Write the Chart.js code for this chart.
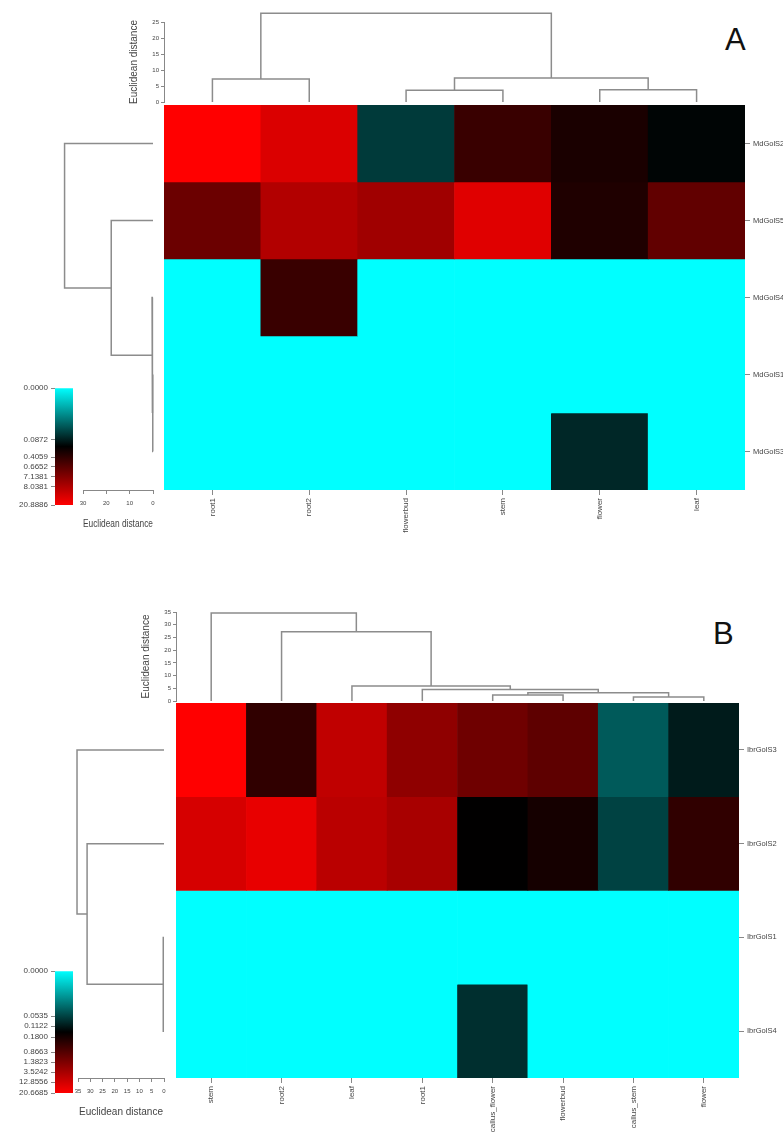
<!DOCTYPE html>
<html lang="en">
<head>
<meta charset="UTF-8">
<title>GolS expression heatmaps</title>
<script src="https://cdn.jsdelivr.net/npm/chart.js"></script>
<style>
    body {
        margin: 0;
        background: #ffffff;
        width: 784px;
        height: 1137px;
        position: relative;
        overflow: hidden;
        font-family: 'Liberation Sans', Arial, sans-serif;
    }
    canvas { position: absolute; }
    .tag {
        position: absolute;
        font-size: 31px;
        line-height: 1;
        color: #111;
    }
</style>
</head>
<body>
<div class="tag" style="left:725px; top:24px">A</div>
<div class="tag" style="left:713px; top:618px">B</div>

<script>
    // ---- panel A data ----
    const colsA = ['root1', 'root2', 'flowerbud', 'stem', 'flower', 'leaf'];
    const rowsA = ['MdGolS2', 'MdGolS5', 'MdGolS4', 'MdGolS1', 'MdGolS3'];
    const valuesA = [
        [20.9, 15.0, 0.076, 0.47, 0.32, 0.19],
        [3.3, 8.3, 7.7, 15.8, 0.34, 1.8],
        [0, 0.47, 0, 0, 0, 0],
        [0, 0, 0, 0, 0, 0],
        [0, 0, 0, 0, 0.083, 0]
    ];
    const keyValsA = [0, 0.0872, 0.4059, 0.6652, 7.1381, 8.0381, 20.8886];
    const keyPosA = [0, 0.444, 0.59, 0.675, 0.76, 0.846, 1];
    // merges like R hclust: negative = leaf (1-based), positive = earlier merge
    const colMergeA = [[-3, -4], [-5, -6], [-1, -2], [1, 2], [3, 4]];
    const colHeightA = [3.7, 3.8, 7.2, 7.5, 27.7];
    const rowMergeA = [[-4, -5], [-3, 1], [-2, 2], [-1, 3]];
    const rowHeightA = [0.1, 0.4, 17.9, 37.9];

    // ---- panel B data ----
    const colsB = ['stem', 'root2', 'leaf', 'root1', 'callus_flower', 'flowerbud', 'callus_stem', 'flower'];
    const rowsB = ['IbrGolS3', 'IbrGolS2', 'IbrGolS1', 'IbrGolS4'];
    const valuesB = [
        [20.6, 0.48, 9.0, 2.3, 1.2, 1.0, 0.047, 0.11],
        [13.7, 16.8, 7.6, 3.6, 0.15, 0.18, 0.055, 0.48],
        [0, 0, 0, 0, 0, 0, 0, 0],
        [0, 0, 0, 0, 0.081, 0, 0, 0]
    ];
    const keyValsB = [0, 0.0535, 0.1122, 0.18, 0.8663, 1.3823, 3.5242, 12.8556, 20.6685];
    const keyPosB = [0, 0.369, 0.451, 0.541, 0.664, 0.746, 0.828, 0.910, 1];
    const colMergeB = [[-5, -6], [-7, -8], [1, 2], [-4, 3], [-3, 4], [-2, 5], [-1, 6]];
    const colHeightB = [2.4, 1.6, 3.2, 4.5, 5.9, 27.2, 34.6];
    const rowMergeB = [[-3, -4], [-2, 1], [-1, 2]];
    const rowHeightB = [0.3, 31.3, 35.4];

    Chart.defaults.font.family = "'Liberation Sans', Arial, sans-serif";
    Chart.defaults.color = '#444';
    Chart.defaults.animation = false;
    Chart.defaults.responsive = false;
    Chart.defaults.devicePixelRatio = 1;
    Chart.defaults.plugins.legend.display = false;
    Chart.defaults.plugins.tooltip.enabled = false;

    const lineGrey = '#8c8c8c';

    function makeCanvas(left, top, w, h) {
        const c = document.createElement('canvas');
        c.width = w;
        c.height = h;
        c.style.left = left + 'px';
        c.style.top = top + 'px';
        c.style.width = w + 'px';
        c.style.height = h + 'px';
        document.body.appendChild(c);
        return c;
    }

    // fixed axis size, and no extra room for end labels
    function fixSize(key, size) {
        return s => {
            s[key] = size;
            s.paddingTop = 0;
            s.paddingBottom = 0;
            s.paddingLeft = 0;
            s.paddingRight = 0;
        };
    }

    // value -> position on the colour key
    function keyT(v, vals, pos) {
        if (v <= vals[0]) return pos[0];
        for (let i = 1; i < vals.length; i++) {
            if (v <= vals[i]) {
                return pos[i - 1] + (v - vals[i - 1]) / (vals[i] - vals[i - 1]) * (pos[i] - pos[i - 1]);
            }
        }
        return pos[pos.length - 1];
    }

    // cyan -> black -> red
    function keyColor(t) {
        if (t < 0.5) {
            const c = Math.round(255 * (1 - 2 * t));
            return `rgb(0,${c},${c})`;
        }
        const r = Math.round(255 * (2 * t - 1));
        return `rgb(${r},0,0)`;
    }

    // U-shaped links from a merge table
    function dendroLinks(merges, heights) {
        const pos = [], hts = [], links = [];
        const at = id => id < 0 ? { p: -id - 1, h: 0 } : { p: pos[id - 1], h: hts[id - 1] };
        merges.forEach(([a, b], k) => {
            const A = at(a), B = at(b), H = heights[k];
            links.push([[A.p, A.h], [A.p, H], [B.p, H], [B.p, B.h]]);
            pos.push((A.p + B.p) / 2);
            hts.push(H);
        });
        return links;
    }

    function heatmap(canvas, cols, rows, values, kv, kp, axisW, axisH) {
        return new Chart(canvas, {
            type: 'bar',
            data: {
                labels: cols,
                datasets: rows.map((r, i) => ({
                    label: r,
                    data: cols.map(() => [i, i + 1]),
                    backgroundColor: values[i].map(v => keyColor(keyT(v, kv, kp))),
                    borderWidth: 0,
                    grouped: false,
                    barPercentage: 1,
                    categoryPercentage: 1
                }))
            },
            options: {
                layout: { padding: 0 },
                scales: {
                    x: {
                        ticks: { minRotation: 90, maxRotation: 90, autoSkip: false, font: { size: 8 }, padding: 3 },
                        grid: { offset: false, drawOnChartArea: false, tickLength: 5, color: '#888' },
                        border: { display: false },
                        afterFit: fixSize('height', axisH)
                    },
                    y: { display: false, min: 0, max: rows.length, reverse: true },
                    rows: {
                        type: 'category',
                        labels: rows,
                        position: 'right',
                        offset: true,
                        ticks: { autoSkip: false, font: { size: 7.5 }, padding: 3 },
                        grid: { drawOnChartArea: false, tickLength: 5, color: '#888' },
                        border: { display: false },
                        afterFit: fixSize('width', axisW)
                    }
                }
            }
        });
    }

    function linkSets(links, flip) {
        return links.map(l => ({
            data: l.map(([p, h]) => flip ? { x: h, y: p } : { x: p, y: h }),
            showLine: true,
            borderColor: lineGrey,
            borderWidth: 1.5,
            pointRadius: 0,
            tension: 0,
            clip: false
        }));
    }

    function topDendro(canvas, merges, heights, n, ymax, axisW, pad) {
        return new Chart(canvas, {
            type: 'scatter',
            data: { datasets: linkSets(dendroLinks(merges, heights), false) },
            options: {
                layout: { padding: pad },
                scales: {
                    x: { type: 'linear', display: false, min: -0.5, max: n - 0.5 },
                    y: {
                        min: 0, max: ymax,
                        ticks: { stepSize: 5, font: { size: 6 }, padding: 2 },
                        grid: { drawOnChartArea: false, tickLength: 3, color: '#888' },
                        border: { color: '#888' },
                        title: { display: true, text: 'Euclidean distance', font: { size: 10 }, padding: 0 },
                        afterFit: fixSize('width', axisW)
                    }
                }
            }
        });
    }

    function sideDendro(canvas, merges, heights, n, xmax, step, axisH, pad) {
        return new Chart(canvas, {
            type: 'scatter',
            data: { datasets: linkSets(dendroLinks(merges, heights), true) },
            options: {
                layout: { padding: pad },
                scales: {
                    x: {
                        type: 'linear', min: 0, max: xmax, reverse: true,
                        ticks: { stepSize: step, font: { size: 6 }, padding: 6, maxRotation: 0, minRotation: 0, autoSkip: false },
                        grid: { drawOnChartArea: false, tickLength: 4, color: '#888' },
                        border: { color: '#888' },
                        title: { display: true, text: 'Euclidean distance', font: { size: 10 }, padding: 0 },
                        afterFit: fixSize('height', axisH)
                    },
                    y: { type: 'linear', display: false, min: -0.5, max: n - 0.5, reverse: true }
                }
            }
        });
    }

    function colourKey(canvas, vals, pos, axisW, pad) {
        return new Chart(canvas, {
            type: 'bar',
            data: {
                labels: ['key'],
                datasets: [{
                    data: [[0, 1]],
                    barPercentage: 1,
                    categoryPercentage: 1,
                    borderWidth: 0,
                    backgroundColor: ctx => {
                        const a = ctx.chart.chartArea;
                        if (!a) return '#000';
                        const g = ctx.chart.ctx.createLinearGradient(0, a.top, 0, a.bottom);
                        g.addColorStop(0, keyColor(0));
                        g.addColorStop(0.5, keyColor(0.5));
                        g.addColorStop(1, keyColor(1));
                        return g;
                    }
                }]
            },
            options: {
                layout: { padding: pad },
                scales: {
                    x: { display: false },
                    y: {
                        min: 0, max: 1, reverse: true,
                        afterBuildTicks: s => { s.ticks = pos.map(v => ({ value: v })); },
                        ticks: { autoSkip: false, font: { size: 8 }, padding: 3, callback: (v, i) => vals[i].toFixed(4) },
                        grid: { drawOnChartArea: false, tickLength: 4, color: '#888' },
                        border: { display: false },
                        afterFit: fixSize('width', axisW)
                    }
                }
            }
        });
    }

    // panel A  (heatmap area 164..745 x 105..490)
    heatmap(makeCanvas(164, 105, 619, 447), colsA, rowsA, valuesA, keyValsA, keyPosA, 38, 62);
    topDendro(makeCanvas(128, 0, 619, 104), colMergeA, colHeightA, colsA.length, 25, 36,
        { top: 22, bottom: 2, right: 2 });
    sideDendro(makeCanvas(40, 105, 120, 425), rowMergeA, rowHeightA, rowsA.length, 30, 10, 40,
        { left: 43, right: 7 });
    colourKey(makeCanvas(10, 384, 65, 125), keyValsA, keyPosA, 45, { top: 4, bottom: 4, right: 2 });

    // panel B  (heatmap area 176..739 x 703..1078)
    heatmap(makeCanvas(176, 703, 608, 434), colsB, rowsB, valuesB, keyValsB, keyPosB, 45, 59);
    topDendro(makeCanvas(140, 590, 601, 113), colMergeB, colHeightB, colsB.length, 35, 36,
        { top: 22, bottom: 2, right: 2 });
    sideDendro(makeCanvas(50, 703, 120, 415), rowMergeB, rowHeightB, rowsB.length, 35, 5, 40,
        { left: 28, right: 6 });
    colourKey(makeCanvas(10, 967, 65, 130), keyValsB, keyPosB, 45, { top: 4, bottom: 4, right: 2 });
</script>
</body>
</html>
